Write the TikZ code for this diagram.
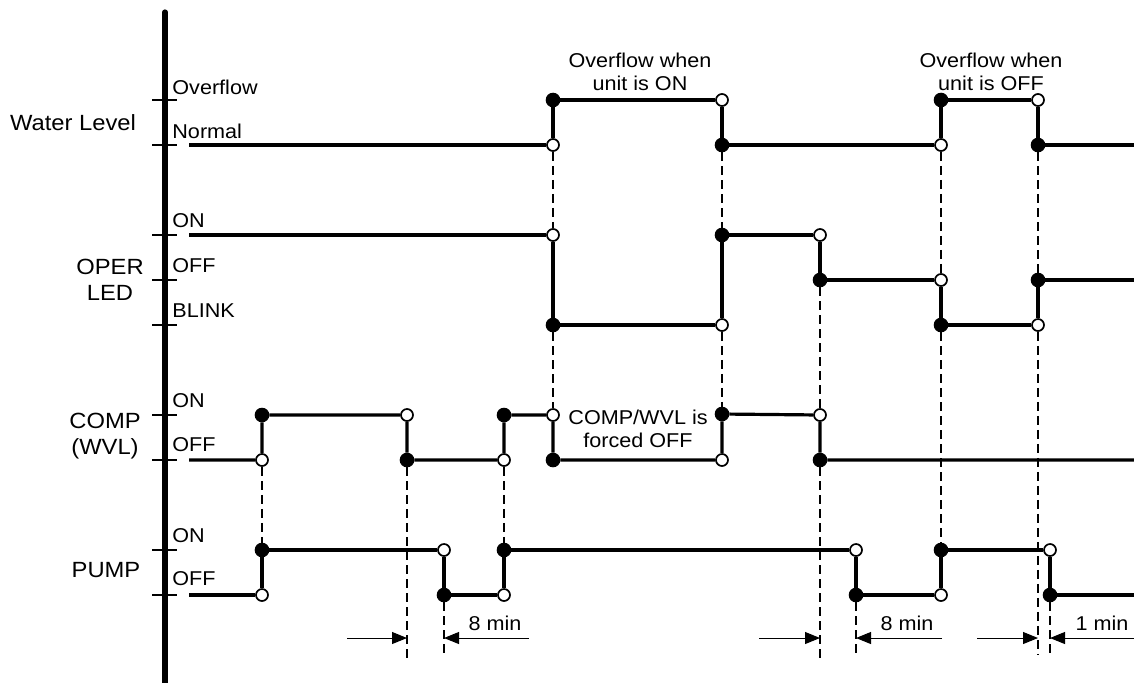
\documentclass[tikz,border=0pt]{standalone}
\usepackage{fontspec}
\setmainfont{Liberation Sans}[FakeStretch=1.08]
\usetikzlibrary{arrows.meta}
\tikzset{
  fd/.style={circle, fill=black, draw=black, line width=0.5pt, inner sep=0pt, minimum size=6.8pt},
  od/.style={circle, fill=white, draw=black, line width=0.85pt, inner sep=0pt, minimum size=6pt},
  sig/.style={line width=1.6pt},
  guide/.style={line width=1pt, dash pattern=on 4.5pt off 2.5pt},
  dim/.style={line width=0.5pt, -{Triangle[length=7.5pt,width=6pt]}},
  tickmark/.style={line width=1pt},
  axisline/.style={line width=2.6pt, line cap=round},
  state/.style={font=\fontsize{10}{12}\selectfont, inner sep=0pt, anchor=west},
  note/.style={font=\fontsize{10}{11.6}\selectfont, inner sep=0pt, align=center},
  big/.style={font=\fontsize{11}{13.2}\selectfont, inner sep=0pt, align=center},
}
\begin{document}
\begin{tikzpicture}[x=0.5pt, y=-0.5pt]
\useasboundingbox (0,0) rectangle (1134,682);
\fill[white] (0,0) rectangle (1134,682);

% axis and ticks
\coordinate (axtop) at (165,12);
\coordinate (axbot) at (165,700);
\draw[axisline] (axtop) -- (axbot);
\foreach \yy in {100,145,235,280,325,415,460,550,595}
  \draw[tickmark] (152,\yy) -- (177,\yy);

% left labels
\node[big] (lwl) at (73,123) {Water Level};
\node[big] (lop) at (110,280) {OPER\\LED};
\node[big] (lco) at (105,436) {COMP\\(WVL)};
\node[big] (lpu) at (106,570) {PUMP};

% state labels
\node[state] (sovf) at (172,87) {Overflow};
\node[state] (snor) at (172,131) {Normal};
\node[state] (son1) at (172,221) {ON};
\node[state] (soff1) at (172,266) {OFF};
\node[state] (sbl) at (172,311) {BLINK};
\node[state] (son2) at (172,401) {ON};
\node[state] (soff2) at (172,445) {OFF};
\node[state] (son3) at (172,536) {ON};
\node[state] (soff3) at (172,579) {OFF};

% annotations
\node[note] (n1) at (640,72) {Overflow when\\unit is ON};
\node[note] (n2) at (991,72) {Overflow when\\unit is OFF};
\node[note] (n3) at (638,429) {COMP/WVL is\\forced OFF};
\node[note] (m1) at (495,623) {8 min};
\node[note] (m2) at (907,623) {8 min};
\node[note] (m3) at (1102,623) {1 min};

% water level
\coordinate (w0) at (189,145);
\node[od] (w1o) at (553,145) {};
\node[fd] (w1f) at (553,100) {};
\node[od] (w2o) at (722,100) {};
\node[fd] (w2f) at (722,145) {};
\node[od] (w3o) at (941,145) {};
\node[fd] (w3f) at (941,100) {};
\node[od] (w4o) at (1038,100) {};
\node[fd] (w4f) at (1038,145) {};
\coordinate (wend) at (1134,145);

% OPER LED
\coordinate (o0) at (189,235);
\node[od] (o1o) at (553,235) {};
\node[fd] (o1f) at (553,325) {};
\node[od] (o2o) at (722,325) {};
\node[fd] (o2f) at (722,235) {};
\node[od] (o3o) at (820,235) {};
\node[fd] (o3f) at (820,280) {};
\node[od] (o4o) at (941,280) {};
\node[fd] (o4f) at (941,325) {};
\node[od] (o5o) at (1038,325) {};
\node[fd] (o5f) at (1038,280) {};
\coordinate (oend) at (1134,280);

% COMP
\coordinate (c0) at (189,460);
\node[od] (c1o) at (262,460) {};
\node[fd] (c1f) at (262,415) {};
\node[od] (c2o) at (407,415) {};
\node[fd] (c2f) at (407,460) {};
\node[od] (c3o) at (504,460) {};
\node[fd] (c3f) at (504,415) {};
\node[od] (c4o) at (553,415) {};
\node[fd] (c4f) at (553,460) {};
\node[od] (c5o) at (722,460) {};
\node[fd] (c5f) at (722,414) {};
\node[od] (c6o) at (820,415) {};
\node[fd] (c6f) at (820,460) {};
\coordinate (cend) at (1134,460);

% PUMP
\coordinate (p0) at (189,595);
\node[od] (p1o) at (262,595) {};
\node[fd] (p1f) at (262,550) {};
\node[od] (p2o) at (444,550) {};
\node[fd] (p2f) at (444,595) {};
\node[od] (p3o) at (504,595) {};
\node[fd] (p3f) at (504,550) {};
\node[od] (p4o) at (856,550) {};
\node[fd] (p4f) at (856,595) {};
\node[od] (p5o) at (941,595) {};
\node[fd] (p5f) at (941,550) {};
\node[od] (p6o) at (1050,550) {};
\node[fd] (p6f) at (1050,595) {};
\coordinate (pend) at (1134,595);

% signal traces
\draw[sig] (w0) -- (w1o) -- (w1f) -- (w2o) -- (w2f) -- (w3o) -- (w3f) -- (w4o) -- (w4f) -- (wend);
\draw[sig] (o0) -- (o1o) -- (o1f) -- (o2o) -- (o2f) -- (o3o) -- (o3f) -- (o4o) -- (o4f) -- (o5o) -- (o5f) -- (oend);
\draw[sig] (c0) -- (c1o) -- (c1f) -- (c2o) -- (c2f) -- (c3o) -- (c3f) -- (c4o) -- (c4f) -- (c5o) -- (c5f) -- (c6o) -- (c6f) -- (cend);
\draw[sig] (p0) -- (p1o) -- (p1f) -- (p2o) -- (p2f) -- (p3o) -- (p3f) -- (p4o) -- (p4f) -- (p5o) -- (p5f) -- (p6o) -- (p6f) -- (pend);

% guide coordinates
\coordinate (d2) at (407,660);
\coordinate (d3) at (444,655);
\coordinate (d7) at (820,660);
\coordinate (d8) at (856,655);
\coordinate (d10) at (1038,655);
\coordinate (d11) at (1050,655);

% dashed guides
\draw[guide] (c1o) -- (p1f);
\draw[guide] (c2f) -- (d2);
\draw[guide] (p2f) -- (d3);
\draw[guide] (c3o) -- (p3f);
\draw[guide] (w1o) -- (o1o);
\draw[guide] (o1f) -- (c4o);
\draw[guide] (w2f) -- (o2f);
\draw[guide] (o2o) -- (c5f);
\draw[guide] (o3f) -- (c6o);
\draw[guide] (c6f) -- (d7);
\draw[guide] (p4f) -- (d8);
\draw[guide] (w3o) -- (o4o);
\draw[guide] (o4f) -- (p5f);
\draw[guide] (w4f) -- (o5f);
\draw[guide] (o5o) -- (d10);
\draw[guide] (p6f) -- (d11);

% dimension arrows
\coordinate (a1s) at (347,638);  \coordinate (a1e) at (407,638);
\coordinate (a2s) at (529,638);  \coordinate (a2e) at (444,638);
\coordinate (a3s) at (759,638);  \coordinate (a3e) at (820,638);
\coordinate (a4s) at (942,638);  \coordinate (a4e) at (856,638);
\coordinate (a5s) at (977,638);  \coordinate (a5e) at (1038,638);
\coordinate (a6s) at (1134,638); \coordinate (a6e) at (1050,638);
\draw[dim] (a1s) -- (a1e);
\draw[dim] (a2s) -- (a2e);
\draw[dim] (a3s) -- (a3e);
\draw[dim] (a4s) -- (a4e);
\draw[dim] (a5s) -- (a5e);
\draw[dim] (a6s) -- (a6e);
\end{tikzpicture}
\end{document}
